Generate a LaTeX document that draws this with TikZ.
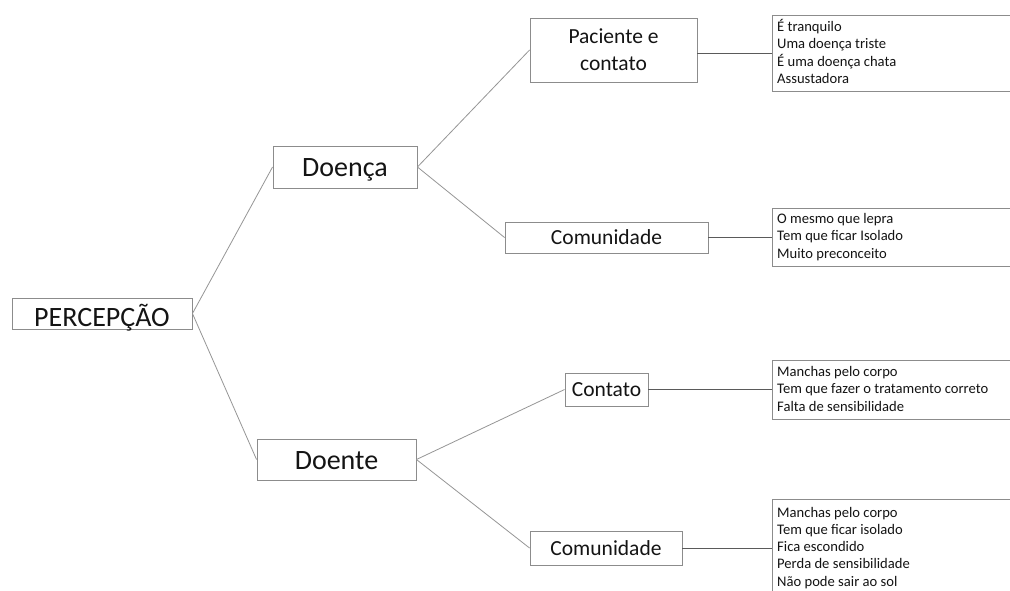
\documentclass[tikz,border=0pt]{standalone}
\usepackage{fontspec}
\setmainfont{Carlito}
\definecolor{boxgray}{RGB}{140,140,140}
\definecolor{linegray}{RGB}{150,150,150}
\definecolor{hlinegray}{RGB}{90,90,90}
\definecolor{txt}{RGB}{20,20,20}
\tikzset{
  bignode/.style={draw=boxgray, line width=0.9pt, fill=white, inner sep=0pt, align=center, text=txt, font=\fontsize{28}{32}\selectfont, text height=19pt, text depth=0pt},
  midnode/.style={draw=boxgray, line width=0.9pt, fill=white, inner sep=0pt, align=center, text=txt, font=\fontsize{21.5}{27}\selectfont, text height=14.5pt, text depth=0pt},
  twoline/.style={draw=boxgray, line width=0.9pt, fill=white, inner sep=0pt, align=center, text=txt, font=\fontsize{21.5}{27.5}\selectfont},
  listbox/.style={draw=boxgray, line width=0.9pt, fill=white, inner sep=0pt, anchor=north west, minimum width=260pt},
  listtext/.style={anchor=base west, inner sep=0pt, text=txt, font=\fontsize{14.6}{17.3}\selectfont},
  conn/.style={draw=linegray, line width=0.8pt},
  hconn/.style={draw=hlinegray, line width=0.8pt},
}
\newcommand{\itemlist}[1]{\begin{tabular}[t]{@{}l@{}}#1\end{tabular}}
\begin{document}
\begin{tikzpicture}[x=1pt,y=-1pt]
\useasboundingbox (0,0) rectangle (1010,590);
\clip (0,0) rectangle (1010,590);
\fill[white] (0,0) rectangle (1010,590);

% main nodes
\node[bignode, minimum width=180pt, minimum height=31pt, text height=25pt] (perc) at (102,313.5) {PERCEPÇÃO};
\node[bignode, minimum width=144pt, minimum height=42pt] (doenca) at (345,167) {Doença};
\node[bignode, minimum width=159pt, minimum height=41pt] (doente) at (336.5,459.5) {Doente};

\node[twoline, minimum width=167pt, minimum height=64pt, text depth=1pt] (pac) at (613.5,50) {Paciente e\\contato};
\node[midnode, minimum width=203pt, minimum height=31pt] (com1) at (606.5,237.5) {Comunidade};
\node[midnode, minimum width=83pt, minimum height=33pt] (cont) at (606.5,389.5) {Contato};
\node[midnode, minimum width=152pt, minimum height=34pt] (com2) at (606,548) {Comunidade};

% list boxes
\node[listbox, minimum height=76pt] (box1) at (772,15) {};
\node[listbox, minimum height=58pt] (box2) at (772,208) {};
\node[listbox, minimum height=59pt] (box3) at (772,360) {};
\node[listbox, minimum height=98pt] (box4) at (772,499) {};

\node[listtext] (t1) at (777,31.5) {\itemlist{É tranquilo\\Uma doença triste\\É uma doença chata\\Assustadora}};
\node[listtext] (t2) at (777,223.5) {\itemlist{O mesmo que lepra\\Tem que ficar Isolado\\Muito preconceito}};
\node[listtext] (t3) at (777,376.5) {\itemlist{Manchas pelo corpo\\Tem que fazer o tratamento correto\\Falta de sensibilidade}};
\node[listtext] (t4) at (777,517) {\itemlist{Manchas pelo corpo\\Tem que ficar isolado\\Fica escondido\\Perda de sensibilidade\\Não pode sair ao sol}};

% connectors
\draw[conn] (perc.east) -- (doenca.west);
\draw[conn] (perc.east) -- (doente.west);
\draw[conn] (doenca.east) -- (pac.west);
\draw[conn] (doenca.east) -- (com1.west);
\draw[conn] (doente.east) -- (cont.west);
\draw[conn] (doente.east) -- (com2.west);

\draw[hconn] (box1.west -| pac.east) -- (box1.west);
\draw[hconn] (com1.east) -- (com1.east -| box2.west);
\draw[hconn] (cont.east) -- (cont.east -| box3.west);
\draw[hconn] (com2.east) -- (com2.east -| box4.west);
\end{tikzpicture}
\end{document}
